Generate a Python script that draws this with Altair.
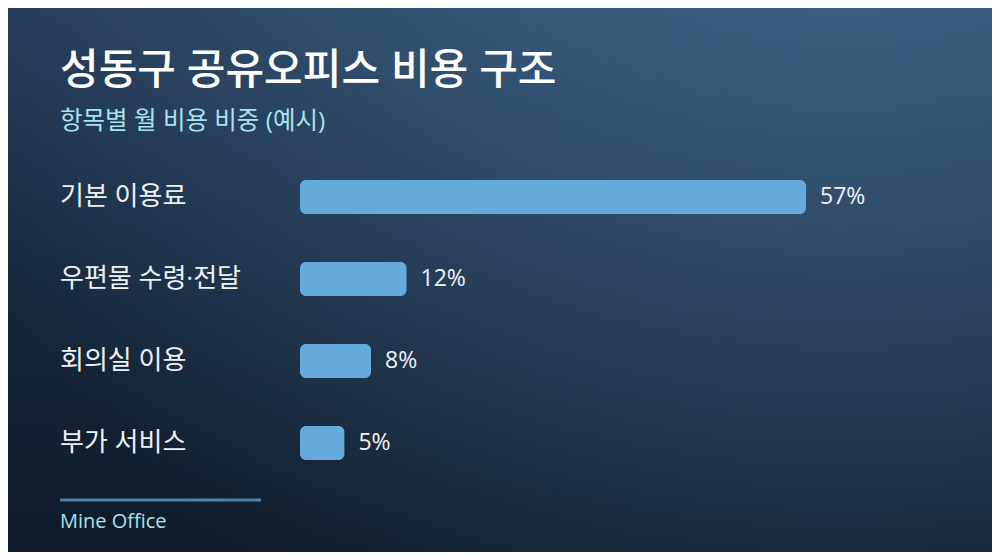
import altair as alt
import pandas as pd

# ---- data ----
categories = ["기본 이용료", "우편물 수령·전달", "회의실 이용", "부가 서비스"]
shares = [57, 12, 8, 5]
value_labels = ["57%", "12%", "8%", "5%"]

title_text = "성동구 공유오피스 비용 구조"
subtitle_text = "항목별 월 비용 비중 (예시)"
source_text = "Mine Office"

FONT = "Open Sans, Noto Sans CJK KR"
W, H = 984, 544

df = pd.DataFrame({"category": categories, "share": shares, "label": value_labels})
one = pd.DataFrame({"k": [0]})

x_scale = alt.Scale(domain=[0, 57], range=[292, 798])
y_scale = alt.Scale(type="point", domain=categories, range=[189, 435], padding=0)

base_grad = alt.LinearGradient(
    gradient="linear", x1=0, y1=0, x2=0, y2=1,
    stops=[
        alt.GradientStop(offset=0, color="#213853"),
        alt.GradientStop(offset=0.55, color="#16263a"),
        alt.GradientStop(offset=1, color="#0f1a28"),
    ],
)
glow_grad = alt.RadialGradient(
    gradient="radial", x1=0.85, y1=0.0, r1=0, x2=0.85, y2=0.0, r2=1.0,
    stops=[
        alt.GradientStop(offset=0, color="rgba(84,130,172,0.62)"),
        alt.GradientStop(offset=0.45, color="rgba(84,130,172,0.38)"),
        alt.GradientStop(offset=1, color="rgba(84,130,172,0)"),
    ],
)

bg = alt.Chart(one).mark_rect(color=base_grad).encode(
    x=alt.value(0), x2=alt.value(W), y=alt.value(0), y2=alt.value(H)
)
glow = alt.Chart(one).mark_rect(color=glow_grad).encode(
    x=alt.value(0), x2=alt.value(W), y=alt.value(0), y2=alt.value(H)
)

title = alt.Chart(one).mark_text(
    text=title_text, font=FONT, fontSize=42, fontWeight=500, color="#ffffff",
    align="left", baseline="middle"
).encode(x=alt.value(52), y=alt.value(63))

subtitle = alt.Chart(one).mark_text(
    text=subtitle_text, font=FONT, fontSize=24.5, color="#a6e3ee",
    align="left", baseline="middle"
).encode(x=alt.value(52), y=alt.value(114))

bars = alt.Chart(df).mark_bar(size=34, cornerRadius=6, color="#66aadc").encode(
    x=alt.X("share:Q", scale=x_scale, axis=None),
    x2=alt.datum(0),
    y=alt.Y("category:N", scale=y_scale, axis=None, sort=categories),
)

cat_text = alt.Chart(df).mark_text(
    font=FONT, fontSize=26, color="#eef2f6", align="left", baseline="middle"
).encode(
    x=alt.value(52),
    y=alt.Y("category:N", scale=y_scale, axis=None, sort=categories),
    text="category:N",
)

val_text = alt.Chart(df).mark_text(
    font=FONT, fontSize=23, color="#f2f5f8", align="left", baseline="middle", dx=14
).encode(
    x=alt.X("share:Q", scale=x_scale, axis=None),
    y=alt.Y("category:N", scale=y_scale, axis=None, sort=categories),
    text="label:N",
)

rule = alt.Chart(one).mark_rule(color="#4f80aa", strokeWidth=3).encode(
    x=alt.value(52), x2=alt.value(253), y=alt.value(492)
)

source = alt.Chart(one).mark_text(
    text=source_text, font=FONT, fontSize=20, color="#a6e3ee",
    align="left", baseline="middle"
).encode(x=alt.value(52), y=alt.value(514))

chart = alt.layer(bg, glow, title, subtitle, bars, cat_text, val_text, rule, source).properties(
    width=W, height=H, padding=0, autosize="none"
).configure_view(stroke=None).configure(background="#0f1a28")

chart.save("out.html", embed_options={"renderer": "svg", "actions": False})
